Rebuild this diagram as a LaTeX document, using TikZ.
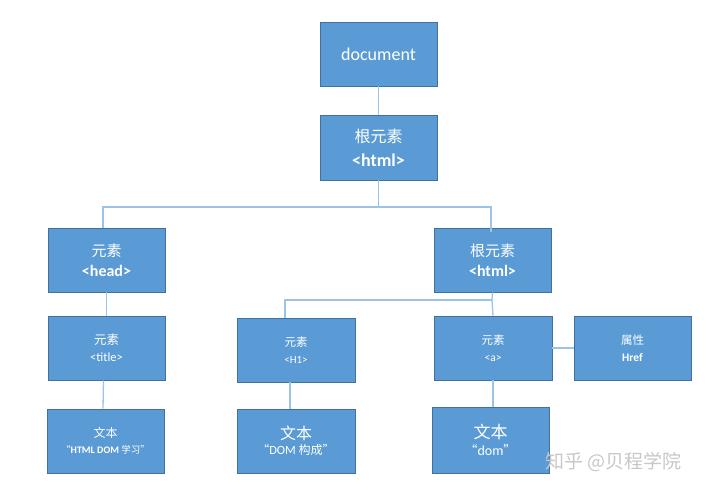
\documentclass[tikz,border=0pt]{standalone}
\usepackage{fontspec}
\setmainfont{Carlito}
\newfontfamily\zh{Noto Sans CJK SC}
\definecolor{boxfill}{HTML}{5B9BD5}
\definecolor{boxline}{HTML}{41719C}
\definecolor{link}{HTML}{9DC3E6}
\definecolor{wm}{HTML}{C8C8C8}
\newcommand{\fs}[1]{\fontsize{#1}{#1}\selectfont}
\begin{document}
\begin{tikzpicture}[x=1pt,y=-1pt,
  box/.style={draw=boxline,fill=boxfill,line width=0.9pt,text=white,align=center,
    minimum width=117pt,minimum height=64pt,inner sep=2pt},
  conn/.style={draw=link,line width=1.3pt}]
\useasboundingbox (0,0) rectangle (720,493);
\fill[white] (0,0) rectangle (720,493);
% boxes
\node[box] (doc) at (378.5,54) {\fs{18}document};
\node[box,minimum height=65pt] (root) at (378.5,147.5) {{\zh\fs{16}根元素}\\[9pt]{\fs{18}\bfseries <html>}};
\node[box] (head) at (106.5,260) {{\zh\fs{15}元素}\\[7pt]{\fs{16}\bfseries <head>}};
\node[box] (html2) at (492.5,260) {{\zh\fs{15}根元素}\\[7pt]{\fs{16}\bfseries <html>}};
\node[box] (title) at (106.5,348) {{\zh\fs{12.5}元素}\\[5pt]{\fs{12.5}<title>}};
\node[box] (text1) at (105.5,441) {{\zh\fs{12}文本}\\[4pt]{\zh\fs{9.5}“}{\fs{10}\bfseries HTML DOM }{\zh\fs{9.5}学习”}};
\node[box,minimum width=118pt] (h1) at (296,350) {{\zh\fs{11.5}元素}\\[5pt]{\fs{11}<H1>}};
\node[box,minimum width=118pt] (text2) at (296,441) {{\zh\fs{16}文本}\\[3pt]{\zh\fs{12}“}{\fs{12.5}DOM }{\zh\fs{12}构成”}};
\node[box,minimum width=118pt] (a) at (493,348) {{\zh\fs{11.5}元素}\\[5pt]{\fs{11.5}<a>}};
\node[box] (attr) at (632.5,348) {{\zh\fs{11.5}属性}\\[5pt]{\fs{11.5}\bfseries Href}};
\node[box,minimum height=66pt] (text3) at (490.5,440) {{\zh\fs{17}文本}\\[3pt]{\zh\fs{13}“}{\fs{14}dom}{\zh\fs{13}”}};
% junctions
\coordinate (j1) at (378.5,207);
\coordinate (j2) at (492,300);
% connectors
\draw[conn] (doc) -- (root);
\draw[conn] (root.south) -- (j1);
\draw[conn] (j1) -| ([xshift=-3.5pt]head.north);
\draw[conn] (j1) -| ([xshift=-1.5pt]html2.north);
\draw[conn] ([xshift=-1.5pt]html2.north) -- ++(0,4);
\draw[conn] (html2.south) -- (j2);
\draw[conn] (j2) -| ([xshift=-11pt]h1.north);
\draw[conn] (j2) -- (a.north);
\draw[conn] (head) -- (title);
\draw[conn] ([xshift=-3pt]title.south) -- ([xshift=-2.5pt]text1.north);
\draw[conn] ([xshift=-6pt]h1.south) -- ([xshift=-6pt]text2.north);
\draw[conn] (a.south) -- ([xshift=2.5pt]text3.north);
\draw[conn] (a.east) -- (attr.west);
% watermark
\node[text=wm,anchor=west,inner sep=0pt] (wmark) at (545,462) {\zh\fs{19}知乎 @贝程学院};
\end{tikzpicture}
\end{document}
